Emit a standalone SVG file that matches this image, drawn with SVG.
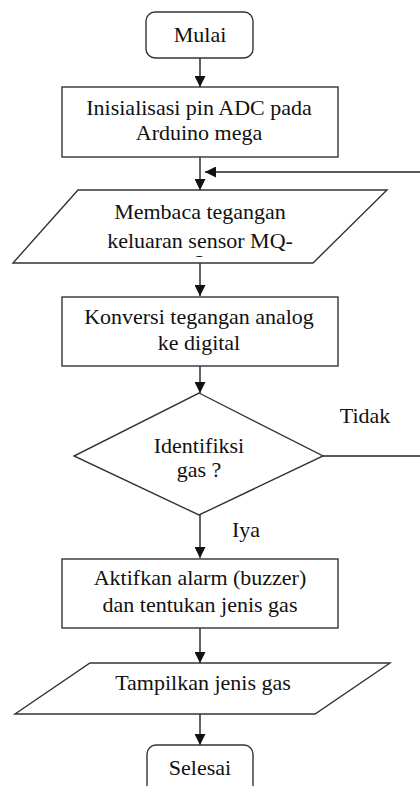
<svg xmlns="http://www.w3.org/2000/svg" width="420" height="786" viewBox="0 0 420 786">
<style>
.s{fill:#fff;stroke:#333;stroke-width:1.4}
.c{fill:none;stroke:#222;stroke-width:1.4}
text{font-family:"Times New Roman","Liberation Serif",Tinos,serif;font-size:22px;fill:#111;text-anchor:middle}
</style>
<defs>
<marker id="ah" markerUnits="userSpaceOnUse" viewBox="0 0 10 10" refX="10" refY="5" markerWidth="11" markerHeight="11" orient="auto">
<path d="M0,0 L10,5 L0,10 z" fill="#111"/>
</marker>
<clipPath id="clip1"><rect x="150" y="200" width="100" height="57"/></clipPath>
</defs>
<rect width="420" height="786" fill="#fff"/>
<g id="connectors">
<line class="c" x1="200" y1="58" x2="200" y2="87" marker-end="url(#ah)"/>
<line class="c" x1="200" y1="157" x2="200" y2="190" marker-end="url(#ah)"/>
<line class="c" x1="422" y1="172" x2="205" y2="172" marker-end="url(#ah)"/>
<line class="c" x1="200" y1="263" x2="200" y2="296" marker-end="url(#ah)"/>
<line class="c" x1="200" y1="366" x2="200" y2="393" marker-end="url(#ah)"/>
<polyline class="c" points="323,456 422,456 422,172"/>
<line class="c" x1="200" y1="515" x2="200" y2="558" marker-end="url(#ah)"/>
<line class="c" x1="200" y1="628" x2="200" y2="663" marker-end="url(#ah)"/>
<line class="c" x1="200" y1="714" x2="200" y2="745" marker-end="url(#ah)"/>
<text x="365" y="423">Tidak</text>
<text x="246" y="537">Iya</text>
</g>
<g id="mulai">
<rect class="s" x="146" y="12" width="107" height="46" rx="9"/>
<text x="200" y="42">Mulai</text>
</g>
<g id="inisialisasi">
<rect class="s" x="62" y="87" width="276" height="70"/>
<text x="199" y="115">Inisialisasi pin ADC pada</text>
<text x="199" y="140">Arduino mega</text>
</g>
<g id="membaca">
<polygon class="s" points="78,190 387,190 313,263 13,263"/>
<text x="200" y="219">Membaca tegangan</text>
<text x="200" y="248">keluaran sensor MQ-</text>
<text x="200" y="270" clip-path="url(#clip1)">2</text>
</g>
<g id="konversi">
<rect class="s" x="62" y="297" width="276" height="69"/>
<text x="199" y="324">Konversi tegangan analog</text>
<text x="199" y="350">ke digital</text>
</g>
<g id="identifikasi">
<polygon class="s" points="199,393 323,456 199,515 74,456"/>
<text x="199" y="453">Identifiksi</text>
<text x="199" y="477">gas ?</text>
</g>
<g id="aktifkan">
<rect class="s" x="62" y="559" width="276" height="69"/>
<text x="200" y="585">Aktifkan alarm (buzzer)</text>
<text x="200" y="612">dan tentukan jenis gas</text>
</g>
<g id="tampilkan">
<polygon class="s" points="90,663 390,663 315,714 15,714"/>
<text x="203" y="690">Tampilkan jenis gas</text>
</g>
<g id="selesai">
<rect class="s" x="147" y="745" width="106" height="60" rx="9"/>
<text x="200" y="775">Selesai</text>
</g>
</svg>
